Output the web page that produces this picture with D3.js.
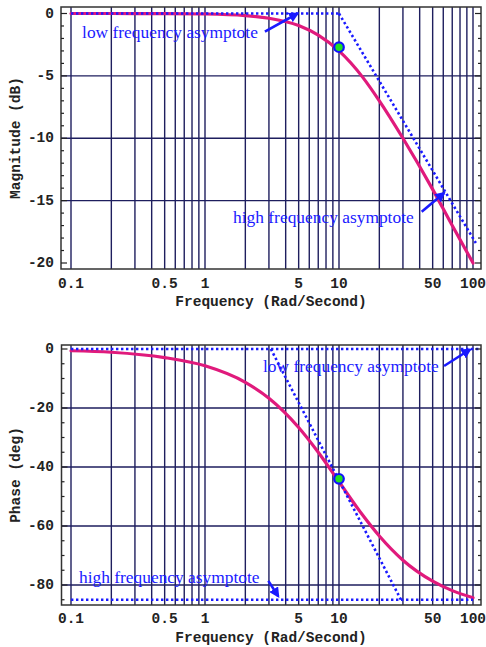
<!DOCTYPE html>
<html><head><meta charset="utf-8">
<script src="https://cdn.jsdelivr.net/npm/d3@7"></script>
<style>body{margin:0;background:#fff}svg{display:block}</style>
</head><body>
<svg id="c" width="486" height="647"></svg>
<script>
// ---- data ----
const freq        = [0.1, 0.2, 0.5, 1, 2, 3, 5, 7, 10, 15, 20, 30, 50, 70, 100];
const magnitudeDb = [0, 0, -0.01, -0.04, -0.17, -0.38, -0.97, -1.74, -3.0, -5.1, -7.0, -10.0, -14.1, -17.0, -20.0];
const phaseDeg    = [-0.6, -1.1, -2.9, -5.7, -11.3, -16.7, -26.6, -35.0, -45.0, -56.3, -63.4, -71.6, -78.7, -81.9, -84.3];
const xTickValues = [0.1, 0.5, 1, 5, 10, 50, 100];
const xTickLabels = ["0.1", "0.5", "1", "5", "10", "50", "100"];
const magTicks    = [0, -5, -10, -15, -20];
const magGrid     = [-5, -10, -15];
const phaseTicks  = [0, -20, -40, -60, -80];
const phaseGrid   = [-20, -40, -60, -80];
const gridFreqs   = [0.1,0.2,0.3,0.4,0.5,0.6,0.7,0.8,0.9,1,2,3,4,5,6,7,8,9,10,20,30,40,50,60,70,80,90,100];
// asymptotes [freq, value]
const magLowAsym    = [[0.1, 0], [10, 0]];
const magHighAsym   = [[10, 0], [105, -18.4]];
const phaseLowAsym  = [[0.1, 0], [112, 0]];
const phaseMidAsym  = [[3.1, 0], [29, -85]];
const phaseHighAsym = [[0.1, -85], [100, -85]];
// corner markers
const magCorner   = [10, -2.7];
const phaseCorner = [10, -44];
// annotations: text anchor [freq, value], arrow from/to [freq, value]
const magNotes = [
  {text: "low frequency asymptote",  at: [0.121, -1.5],  from: [2.8, -1.45],  to: [4.9, 0.0]},
  {text: "high frequency asymptote", at: [1.62, -16.29], from: [41.4, -15.89], to: [60.8, -14.39]}
];
const phaseNotes = [
  {text: "low frequency asymptote",  at: [2.71, -5.76],  from: [60.8, -5.76], to: [95, -0.17]},
  {text: "high frequency asymptote", at: [0.1147, -77.3], from: [2.97, -78.6], to: [3.52, -83.8]}
];

// ---- drawing ----
const svg = d3.select("#c");
const x = d3.scaleLog().domain([0.1, 100]).range([71, 473]);
const MAG = "#e01a7c", BLUE = "#1a1aff", GRID = "#1e1e5e";
const mono = "'Liberation Mono','Courier New',monospace";
const serif = "'Liberation Serif','Times New Roman',serif";

svg.append("defs").append("marker")
  .attr("id", "ah").attr("viewBox", "0 0 10 10").attr("refX", 8).attr("refY", 5)
  .attr("markerWidth", 4).attr("markerHeight", 4).attr("markerUnits", "strokeWidth")
  .attr("orient", "auto")
  .append("path").attr("d", "M0,0 L10,5 L0,10 Z").attr("fill", BLUE);

function panel(cfg) {
  const g = svg.append("g");
  const y = d3.scaleLinear().domain(cfg.yDomain).range(cfg.yRange);
  const f = cfg.frame;
  g.append("rect").attr("x", f.l).attr("y", f.t).attr("width", f.r - f.l).attr("height", f.b - f.t).attr("fill", "#fff");
  // vertical grid
  g.selectAll(".vg").data(gridFreqs).join("line")
    .attr("x1", d => x(d)).attr("x2", d => x(d)).attr("y1", f.t).attr("y2", f.b)
    .attr("stroke", GRID).attr("stroke-width", 1.4);
  // horizontal grid
  g.selectAll(".hg").data(cfg.grid).join("line")
    .attr("x1", f.l).attr("x2", f.r).attr("y1", d => y(d)).attr("y2", d => y(d))
    .attr("stroke", GRID).attr("stroke-width", 1.4);
  // curve
  const line = d3.line().x(d => x(d[0])).y(d => y(d[1])).curve(d3.curveMonotoneX);
  g.append("path").datum(freq.map((fq, i) => [fq, cfg.values[i]]))
    .attr("d", line).attr("fill", "none").attr("stroke", MAG).attr("stroke-width", 3.2)
    .attr("stroke-linecap", "round");
  // asymptotes
  const straight = d3.line().x(d => x(d[0])).y(d => y(d[1]));
  cfg.asym.forEach(a => {
    g.append("path").attr("d", straight(a)).attr("fill", "none").attr("stroke", BLUE)
      .attr("stroke-width", 2.6).attr("stroke-dasharray", "2.4,2.6");
  });
  // corner marker
  g.append("circle").attr("cx", x(cfg.corner[0])).attr("cy", y(cfg.corner[1])).attr("r", 4.8)
    .attr("fill", "#22e022").attr("stroke", "#1010ff").attr("stroke-width", 2.2);
  // annotations
  cfg.notes.forEach(n => {
    g.append("text").attr("x", x(n.at[0])).attr("y", y(n.at[1]))
      .attr("dominant-baseline", "central").attr("font-family", serif).attr("font-size", 17.4)
      .attr("fill", BLUE).text(n.text);
    g.append("line").attr("x1", x(n.from[0])).attr("y1", y(n.from[1]))
      .attr("x2", x(n.to[0])).attr("y2", y(n.to[1]))
      .attr("stroke", BLUE).attr("stroke-width", 2.6).attr("marker-end", "url(#ah)");
  });
  // frame
  g.append("rect").attr("x", f.l).attr("y", f.t).attr("width", f.r - f.l).attr("height", f.b - f.t)
    .attr("fill", "none").attr("stroke", "#333").attr("stroke-width", 1.5);
  // minor/major ticks on left and right
  const tickVals = d3.range(cfg.yDomain[0], cfg.minorEnd - 0.001, -cfg.minorStep);
  tickVals.forEach(v => {
    const major = cfg.ticks.includes(v);
    const len = major ? 6 : 3;
    g.append("line").attr("x1", f.l).attr("x2", f.l + len).attr("y1", y(v)).attr("y2", y(v))
      .attr("stroke", "#222").attr("stroke-width", 1.2);
    g.append("line").attr("x1", f.r).attr("x2", f.r - len).attr("y1", y(v)).attr("y2", y(v))
      .attr("stroke", "#222").attr("stroke-width", 1.2);
  });
  // y tick labels
  g.selectAll(".yl").data(cfg.ticks).join("text")
    .attr("x", 54).attr("y", d => y(d)).attr("text-anchor", "end").attr("dominant-baseline", "central")
    .attr("font-family", mono).attr("font-weight", "bold").attr("font-size", 14.5).attr("fill", "#222")
    .text(d => d === 0 ? "0" : "-" + Math.abs(d));
  // x tick labels
  g.selectAll(".xl").data(xTickValues).join("text")
    .attr("x", d => x(d)).attr("y", cfg.xLabelY).attr("text-anchor", "middle").attr("dominant-baseline", "central")
    .attr("font-family", mono).attr("font-weight", "bold").attr("font-size", 14.5).attr("fill", "#222")
    .text((d, i) => xTickLabels[i]);
  // axis titles
  g.append("text").attr("x", 271).attr("y", cfg.xTitleY).attr("text-anchor", "middle").attr("dominant-baseline", "central")
    .attr("font-family", mono).attr("font-weight", "bold").attr("font-size", 14.5).attr("fill", "#222")
    .text("Frequency (Rad/Second)");
  g.append("text").attr("transform", `translate(16,${cfg.yTitleY}) rotate(-90)`)
    .attr("text-anchor", "middle").attr("dominant-baseline", "central")
    .attr("font-family", mono).attr("font-weight", "bold").attr("font-size", 14.5).attr("fill", "#222")
    .text(cfg.yTitle);
}

panel({
  frame: {l: 61, r: 481, t: 7, b: 269},
  yDomain: [0, -20], yRange: [13.5, 263],
  values: magnitudeDb, grid: magGrid, ticks: magTicks, minorStep: 1, minorEnd: -20,
  asym: [magLowAsym, magHighAsym], corner: magCorner, notes: magNotes,
  xLabelY: 284, xTitleY: 302, yTitle: "Magnitude (dB)", yTitleY: 138
});
panel({
  frame: {l: 61.5, r: 481, t: 345, b: 605},
  yDomain: [0, -80], yRange: [349, 585],
  values: phaseDeg, grid: phaseGrid, ticks: phaseTicks, minorStep: 5, minorEnd: -85,
  asym: [phaseLowAsym, phaseMidAsym, phaseHighAsym], corner: phaseCorner, notes: phaseNotes,
  xLabelY: 619, xTitleY: 638, yTitle: "Phase (deg)", yTitleY: 475
});
</script>
</body></html>
